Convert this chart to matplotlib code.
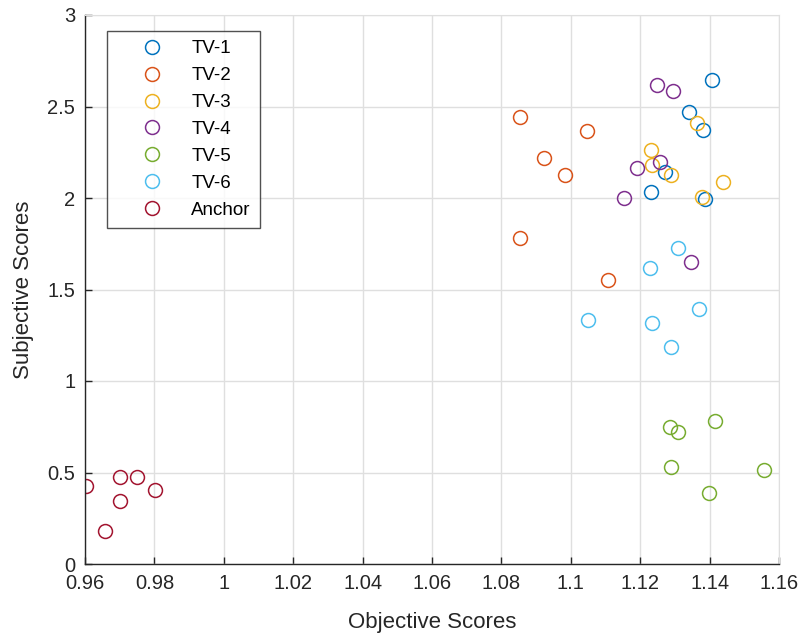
import matplotlib.pyplot as plt

plt.rcParams['font.family'] = ['Liberation Sans', 'DejaVu Sans']

# objective / subjective scores per test variant
tv1_x = [1.1406, 1.1341, 1.1382, 1.1271, 1.1231, 1.1388]
tv1_y = [2.644, 2.469, 2.372, 2.143, 2.032, 1.997]

tv2_x = [1.0854, 1.1047, 1.0923, 1.0982, 1.0854, 1.1107]
tv2_y = [2.443, 2.365, 2.216, 2.128, 1.779, 1.551]

tv3_x = [1.1364, 1.1231, 1.1235, 1.1290, 1.1438, 1.1379]
tv3_y = [2.409, 2.261, 2.181, 2.128, 2.085, 2.004]

tv4_x = [1.1249, 1.1295, 1.1258, 1.1190, 1.1152, 1.1346]
tv4_y = [2.616, 2.582, 2.197, 2.165, 1.999, 1.649]

tv5_x = [1.1286, 1.1310, 1.1415, 1.1290, 1.1558, 1.1397]
tv5_y = [0.748, 0.720, 0.782, 0.529, 0.513, 0.389]

tv6_x = [1.1310, 1.1227, 1.1369, 1.1051, 1.1235, 1.1290]
tv6_y = [1.726, 1.620, 1.394, 1.334, 1.316, 1.185]

anchor_x = [0.9602, 0.9702, 0.9749, 0.9702, 0.9803, 0.9657]
anchor_y = [0.424, 0.476, 0.476, 0.343, 0.407, 0.179]

labels = ['TV-1', 'TV-2', 'TV-3', 'TV-4', 'TV-5', 'TV-6', 'Anchor']
colors = ['#0072BD', '#D95319', '#EDB120', '#7E2F8E', '#77AC30', '#4DBEEE', '#A2142F']
xs = [tv1_x, tv2_x, tv3_x, tv4_x, tv5_x, tv6_x, anchor_x]
ys = [tv1_y, tv2_y, tv3_y, tv4_y, tv5_y, tv6_y, anchor_y]

fig = plt.figure(figsize=(8.04, 6.38), dpi=100)
ax = fig.add_axes([85 / 804, (638 - 564) / 638, 694 / 804, 549 / 638])

for x, y, c, lab in zip(xs, ys, colors, labels):
    ax.plot(x, y, 'o', markersize=10, markerfacecolor='none',
            markeredgecolor=c, markeredgewidth=1.1, label=lab)

ax.set_xlim(0.96, 1.16)
ax.set_ylim(0, 3)
ax.set_xticks([0.96, 0.98, 1.0, 1.02, 1.04, 1.06, 1.08, 1.1, 1.12, 1.14, 1.16])
ax.set_xticklabels(['0.96', '0.98', '1', '1.02', '1.04', '1.06', '1.08', '1.1', '1.12', '1.14', '1.16'])
ax.set_yticks([0, 0.5, 1, 1.5, 2, 2.5, 3])
ax.set_yticklabels(['0', '0.5', '1', '1.5', '2', '2.5', '3'])

ax.grid(True, color='#dfdfdf', linewidth=1)
ax.set_axisbelow(True)
for s in ['top', 'right']:
    ax.spines[s].set_color('#dfdfdf')
for s in ['left', 'bottom']:
    ax.spines[s].set_color('#262626')
    ax.spines[s].set_linewidth(1)
ax.tick_params(direction='in', length=5, width=1, color='#262626',
               labelcolor='#262626', labelsize=14.5, pad=7)

ax.set_xlabel('Objective Scores', fontsize=16, color='#262626', labelpad=14)
ax.set_ylabel('Subjective Scores', fontsize=16, color='#262626', labelpad=10)

leg = ax.legend(loc='upper left', bbox_to_anchor=(0.0317, 0.971), borderaxespad=0,
                fontsize=13.5, frameon=True, fancybox=False, handletextpad=0.2,
                handlelength=3.8, labelspacing=0.52, borderpad=0.5)
leg.get_frame().set_edgecolor('#262626')
leg.get_frame().set_linewidth(1)

fig.savefig('out.png', dpi=100)
